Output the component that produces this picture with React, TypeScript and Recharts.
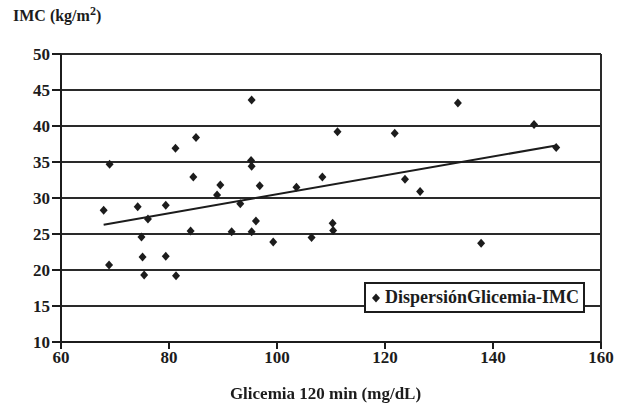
import React from "react";
import {
  ScatterChart,
  Scatter,
  XAxis,
  YAxis,
  CartesianGrid,
  ReferenceLine,
} from "recharts";

// Glicemia a los 120 min (mg/dL) y su IMC (kg/m2)
const glicemia = [
  67.9, 69.0, 68.9, 74.2, 74.9, 75.1, 75.4, 76.1, 79.4, 79.4,
  81.2, 81.3, 84.0, 84.5, 85.0, 88.9, 89.5, 91.6, 93.2, 95.3,
  95.2, 95.3, 95.3, 96.1, 96.8, 99.3, 103.6, 106.4, 108.4, 110.3,
  110.4, 111.2, 121.8, 123.7, 126.5, 133.5, 137.8, 147.6, 151.7,
];
const imc = [
  28.3, 34.7, 20.7, 28.8, 24.6, 21.8, 19.3, 27.1, 29.0, 21.9,
  36.9, 19.2, 25.4, 32.9, 38.4, 30.4, 31.8, 25.3, 29.2, 43.6,
  35.2, 34.4, 25.3, 26.8, 31.7, 23.9, 31.5, 24.5, 32.9, 26.5,
  25.5, 39.2, 39.0, 32.6, 30.9, 43.2, 23.7, 40.2, 37.0,
];

// recta de tendencia (extremos)
const trendX = [67.9, 151.7];
const trendY = [26.3, 37.3];

const xTicks = [60, 80, 100, 120, 140, 160];
const yTicks = [10, 15, 20, 25, 30, 35, 40, 45, 50];

const seriesName = "DispersiónGlicemia-IMC";

const points = glicemia.map((x, i) => ({ x, y: imc[i] }));
const trend = trendX.map((x, i) => ({ x, y: trendY[i] }));

const INK = "#1c1c1c";
const FONT = "'Liberation Serif', 'Times New Roman', serif";

const Diamond = (props: any) => {
  const { cx, cy } = props;
  if (cx == null || cy == null) return <g />;
  return (
    <polygon
      points={`${cx},${cy - 4.5} ${cx + 4},${cy} ${cx},${cy + 4.5} ${cx - 4},${cy}`}
      fill={INK}
    />
  );
};

const NoDot = () => <g />;

// leyenda dibujada encima del gráfico, para no quitarle altura al área de trazado
const LegendBox = () => (
  <div
    style={{
      position: "absolute",
      left: 364,
      top: 282,
      boxSizing: "border-box",
      width: 221,
      height: 31,
      border: `2px solid ${INK}`,
      background: "#fff",
      display: "flex",
      alignItems: "center",
      paddingLeft: 5,
      fontFamily: FONT,
      fontWeight: "bold",
      fontSize: 18,
      color: INK,
      whiteSpace: "nowrap",
    }}
  >
    <svg width={10} height={10} style={{ marginRight: 4 }}>
      <polygon points="5,0.5 9,5 5,9.5 1,5" fill={INK} />
    </svg>
    <span>{seriesName}</span>
  </div>
);

const tickStyle = {
  fontFamily: FONT,
  fontWeight: "bold" as const,
  fontSize: 17,
  fill: INK,
};

export default function App() {
  return (
    <div
      style={{
        position: "fixed",
        left: 0,
        top: 0,
        width: 630,
        height: 408,
        background: "#fff",
      }}
    >
      <div
        style={{
          position: "absolute",
          left: 13,
          top: 7,
          fontFamily: FONT,
          fontWeight: "bold",
          fontSize: 16,
          color: INK,
          lineHeight: "18px",
        }}
      >
        IMC (kg/m<sup style={{ fontSize: 12, lineHeight: 0 }}>2</sup>)
      </div>

      <ScatterChart
        width={630}
        height={408}
        margin={{ top: 54, right: 29, bottom: 0, left: 0 }}
      >
        <CartesianGrid
          horizontal
          vertical={false}
          stroke="#2a2a2a"
          strokeWidth={2}
        />
        <XAxis
          type="number"
          dataKey="x"
          domain={[60, 160]}
          ticks={xTicks}
          interval={0}
          height={66}
          tickSize={7}
          tickMargin={2}
          tick={tickStyle}
          axisLine={{ stroke: INK, strokeWidth: 2 }}
          tickLine={{ stroke: INK, strokeWidth: 2 }}
          allowDataOverflow
        />
        <YAxis
          type="number"
          dataKey="y"
          domain={[10, 50]}
          ticks={yTicks}
          interval={0}
          width={61}
          tickSize={9}
          tickMargin={2}
          tick={tickStyle}
          axisLine={{ stroke: INK, strokeWidth: 2 }}
          tickLine={{ stroke: INK, strokeWidth: 2 }}
          allowDataOverflow
        />
        <ReferenceLine y={50} stroke="#2a2a2a" strokeWidth={2} />
        <ReferenceLine x={160} stroke="#2a2a2a" strokeWidth={2} />
        <Scatter
          data={trend}
          line={{ stroke: INK, strokeWidth: 2 }}
          shape={NoDot}
          legendType="none"
          isAnimationActive={false}
        />
        <Scatter
          name={seriesName}
          data={points}
          fill={INK}
          shape={Diamond}
          isAnimationActive={false}
        />
      </ScatterChart>

      <LegendBox />

      <div
        style={{
          position: "absolute",
          left: 0,
          width: 651,
          top: 384,
          textAlign: "center",
          fontFamily: FONT,
          fontWeight: "bold",
          fontSize: 17,
          color: INK,
        }}
      >
        Glicemia 120 min (mg/dL)
      </div>
    </div>
  );
}
